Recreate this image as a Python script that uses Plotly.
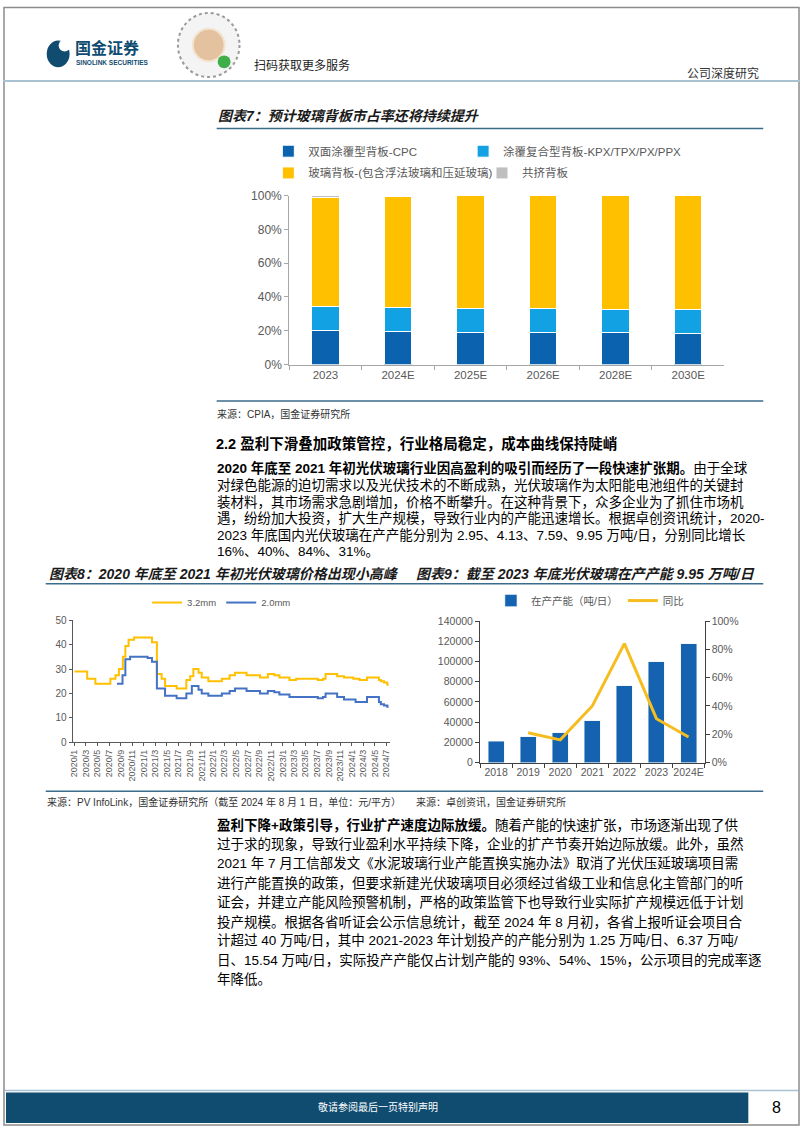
import plotly.graph_objects as go

W, H = 802, 1133
FONT = "Liberation Sans, Noto Sans CJK SC"


def px(x):
    return x / W


def py(y):
    return 1 - y / H


# ---- 图表7: backsheet market share (%) ----
bs_years = ["2023", "2024E", "2025E", "2026E", "2028E", "2030E"]
bs_cpc = [20.0, 19.4, 19.0, 18.8, 18.8, 18.4]
bs_kpx = [14.5, 14.1, 14.0, 14.2, 13.9, 14.3]
bs_glass = [64.5, 65.7, 67.0, 67.0, 67.3, 67.3]
bs_coex = [1.0, 0.8, 0.0, 0.0, 0.0, 0.0]

# ---- 图表8: PV glass price (元/平方), step change points ----
p32_dates = ["2020-01-01", "2020-03-08", "2020-04-20", "2020-07-08", "2020-08-04",
             "2020-08-22", "2020-09-12", "2020-09-25", "2020-10-12", "2020-11-10",
             "2021-02-12", "2021-03-10", "2021-04-04", "2021-04-22", "2021-06-22",
             "2021-08-12", "2021-09-01", "2021-09-18", "2021-10-15", "2021-11-01",
             "2021-12-06", "2022-02-15", "2022-03-28", "2022-04-25", "2022-06-25",
             "2022-09-04", "2022-10-15", "2022-11-18", "2022-12-15", "2023-02-06",
             "2023-03-12", "2023-07-05", "2023-08-01", "2023-08-15", "2023-10-15",
             "2023-11-20", "2024-01-08", "2024-02-10", "2024-03-20", "2024-05-22",
             "2024-06-01", "2024-06-18", "2024-07-05", "2024-07-12"]
p32_vals = [29, 26, 24, 26, 27.5,
            30, 35, 39.5, 42, 43,
            41, 28, 26, 23, 22,
            25.5, 27, 30, 28.5, 26.5,
            25, 26, 27.5, 28.5, 27.5,
            26.5, 28, 27.5, 26.5, 25.5,
            26, 25.5, 26, 28, 27,
            26.5, 26, 25.5, 26.5, 25.5,
            25, 24.5, 23.5, 23.5]

p20_dates = ["2020-08-12", "2020-09-10", "2020-09-25", "2020-10-20", "2021-01-20",
             "2021-02-12", "2021-03-10", "2021-04-22", "2021-06-22", "2021-08-12",
             "2021-09-10", "2021-10-15", "2021-11-01", "2021-12-06", "2022-02-15",
             "2022-03-28", "2022-04-25", "2022-06-25", "2022-09-04", "2022-10-15",
             "2022-11-18", "2022-12-15", "2023-02-06", "2023-07-05", "2023-08-01",
             "2023-08-15", "2023-10-15", "2023-11-20", "2024-01-20", "2024-03-20",
             "2024-05-22", "2024-06-01", "2024-06-18", "2024-07-05", "2024-07-12"]
p20_vals = [24, 27.5, 34, 35, 34.5,
            33, 22, 19, 18, 20,
            23, 21.5, 20, 19, 20,
            21, 22, 21, 20, 21,
            20.5, 19.5, 18.5, 18, 18.5,
            20, 18.5, 17.5, 16.5, 18.5,
            16.5, 15.5, 15, 14.5, 14.5]

price_tickvals = ["2020-01-01", "2020-03-01", "2020-05-01", "2020-07-01", "2020-09-01",
                  "2020-11-01", "2021-01-01", "2021-03-01", "2021-05-01", "2021-07-01",
                  "2021-09-01", "2021-11-01", "2022-01-01", "2022-03-01", "2022-05-01",
                  "2022-07-01", "2022-09-01", "2022-11-01", "2023-01-01", "2023-03-01",
                  "2023-05-01", "2023-07-01", "2023-09-01", "2023-11-01", "2024-01-01",
                  "2024-03-01", "2024-05-01", "2024-07-01"]
price_ticktext = ["2020/1", "2020/3", "2020/5", "2020/7", "2020/9", "2020/11",
                  "2021/1", "2021/3", "2021/5", "2021/7", "2021/9", "2021/11",
                  "2022/1", "2022/3", "2022/5", "2022/7", "2022/9", "2022/11",
                  "2023/1", "2023/3", "2023/5", "2023/7", "2023/9", "2023/11",
                  "2024/1", "2024/3", "2024/5", "2024/7"]

# ---- 图表9: capacity in production (吨/日) and yoy ----
cap_years = ["2018", "2019", "2020", "2021", "2022", "2023", "2024E"]
cap_tpd = [21000, 25400, 29500, 41300, 75900, 99500, 117400]
yoy_years = ["2019", "2020", "2021", "2022", "2023", "2024E"]
yoy_vals = [0.21, 0.16, 0.40, 0.84, 0.31, 0.18]

C_DARK = "#0b62ae"
C_LIGHT = "#12a1e3"
C_YEL = "#ffc000"
C_GRAY = "#bfbfbf"
NAVY = "#0f4c70"
RULE = "#3b6b8a"
TICK = "#595959"

fig = go.Figure()

bar_line = dict(color="white", width=1)
fig.add_trace(go.Bar(x=bs_years, y=bs_cpc, name="双面涂覆型背板-CPC", marker=dict(color=C_DARK, line=bar_line),
                     width=0.38, xaxis="x", yaxis="y", legend="legend"))
fig.add_trace(go.Bar(x=bs_years, y=bs_kpx, name="涂覆复合型背板-KPX/TPX/PX/PPX", marker=dict(color=C_LIGHT, line=bar_line),
                     width=0.38, xaxis="x", yaxis="y", legend="legend2"))
fig.add_trace(go.Bar(x=bs_years, y=bs_glass, name="玻璃背板-(包含浮法玻璃和压延玻璃)", marker=dict(color=C_YEL, line=bar_line),
                     width=0.38, xaxis="x", yaxis="y", legend="legend3"))
fig.add_trace(go.Bar(x=bs_years, y=bs_coex, name="共挤背板", marker=dict(color=C_GRAY, line=bar_line),
                     width=0.38, xaxis="x", yaxis="y", legend="legend4"))

fig.add_trace(go.Scatter(x=p32_dates, y=p32_vals, name="3.2mm", mode="lines", line=dict(color=C_YEL, width=2, shape="hv"),
                         xaxis="x2", yaxis="y2", legend="legend5"))
fig.add_trace(go.Scatter(x=p20_dates, y=p20_vals, name="2.0mm", mode="lines", line=dict(color="#4472c4", width=2, shape="hv"),
                         xaxis="x2", yaxis="y2", legend="legend5"))

fig.add_trace(go.Bar(x=cap_years, y=cap_tpd, name="在产产能（吨/日）", marker=dict(color="#1462b0"),
                     width=0.5, xaxis="x3", yaxis="y3", legend="legend6"))
fig.add_trace(go.Scatter(x=yoy_years, y=yoy_vals, name="同比", mode="lines", line=dict(color="#f5bd1f", width=3),
                         xaxis="x3", yaxis="y4", legend="legend6"))

tickfont7 = dict(family=FONT, size=12, color=TICK)
tickfont8 = dict(family=FONT, size=10, color=TICK)
tickfont9 = dict(family=FONT, size=10.5, color=TICK)


def leg(x, y, size):
    return dict(x=px(x), y=py(y), xanchor="left", yanchor="middle", orientation="h", traceorder="normal",
                bgcolor="rgba(0,0,0,0)", font=dict(family=FONT, size=size, color=TICK))


fig.update_layout(
    width=W, height=H, margin=dict(l=0, r=0, t=0, b=0),
    paper_bgcolor="white", plot_bgcolor="white",
    barmode="stack", showlegend=True,
    font=dict(family=FONT, color="#000"),
    xaxis=dict(domain=[px(288), px(726)], anchor="y", type="category", showline=True, linecolor="#a6a6a6",
               ticks="outside", tickson="boundaries", ticklen=4, tickcolor="#a6a6a6",
               tickfont=dict(family=FONT, size=11.5, color=TICK), tickangle=0, showgrid=False),
    yaxis=dict(domain=[py(362), py(191)], anchor="x", range=[0, 100], dtick=20, ticksuffix="%", showline=True,
               linecolor="#a6a6a6", ticks="outside", ticklen=4, tickcolor="#a6a6a6", tickfont=tickfont7,
               showgrid=False, zeroline=False),
    xaxis2=dict(domain=[px(70), px(389)], anchor="y2", type="date", range=["2019-12-22", "2024-07-17"],
                tickvals=price_tickvals, ticktext=price_ticktext, tickangle=-90, showline=True, linecolor="#595959",
                ticks="outside", ticklen=3, tickcolor="#595959", tickfont=dict(family=FONT, size=9, color=TICK),
                showgrid=False),
    yaxis2=dict(domain=[py(744.3), py(621)], anchor="x2", range=[0, 50], dtick=10, showline=True,
                linecolor="#595959", ticks="outside", ticklen=3, tickcolor="#595959", tickfont=tickfont8,
                showgrid=False, zeroline=False),
    xaxis3=dict(domain=[px(480), px(706)], anchor="y3", type="category", showline=True, linecolor="#404040",
                ticks="outside", tickson="boundaries", ticklen=4, tickcolor="#404040", tickfont=tickfont9,
                tickangle=0, showgrid=False),
    yaxis3=dict(domain=[py(765), py(621.7)], anchor="x3", range=[0, 140000], dtick=20000, tickformat="d",
                showline=True, linecolor="#404040", ticks="outside", ticklen=4, tickcolor="#404040",
                tickfont=tickfont9, showgrid=False, zeroline=False),
    yaxis4=dict(overlaying="y3", anchor="x3", side="right", range=[0, 1], dtick=0.2, tickformat=".0%",
                showline=True, linecolor="#404040", ticks="outside", ticklen=4, tickcolor="#404040",
                tickfont=tickfont9, showgrid=False, zeroline=False),
    legend=leg(267, 146, 11.5),
    legend2=leg(463, 146, 11.5),
    legend3=leg(267, 168, 11.5),
    legend4=leg(482, 168, 11.5),
    legend5=leg(145, 603, 9.5),
    legend6=leg(491, 601, 10.5),
)

shapes = []


def hline(x0, x1, y, color, width):
    shapes.append(dict(type="line", xref="paper", yref="paper", x0=px(x0), x1=px(x1), y0=py(y), y1=py(y),
                       line=dict(color=color, width=width)))


# page frame and rules
shapes.append(dict(type="rect", xref="paper", yref="paper", x0=px(1), x1=px(801), y0=py(1132), y1=py(0.5),
                   line=dict(color="#8c8c8c", width=1.5)))
hline(0, 802, 75, "#a9c1d0", 2)
hline(215, 765, 123, RULE, 1.5)
hline(215, 765, 399, RULE, 1.5)
hline(43, 765, 584, RULE, 1.5)
hline(43, 765, 794, RULE, 1.5)
hline(2, 800, 1097, "#a9c1d0", 1.5)
shapes.append(dict(type="rect", xref="paper", yref="paper", x0=px(3), x1=px(750), y0=py(1130), y1=py(1099),
                   fillcolor=NAVY, line=dict(width=0)))
# logo
shapes.append(dict(type="circle", xref="paper", yref="paper", x0=px(44), x1=px(67), y0=py(61), y1=py(34),
                   fillcolor=NAVY, line=dict(width=0)))
shapes.append(dict(type="circle", xref="paper", yref="paper", x0=px(56), x1=px(68), y0=py(45), y1=py(33),
                   fillcolor="white", line=dict(width=0)))
# mini-program code
shapes.append(dict(type="circle", xref="paper", yref="paper", x0=px(176), x1=px(238), y0=py(71), y1=py(6),
                   fillcolor="#f4f4f4", line=dict(color="#9a9a9a", width=2, dash="dot")))
shapes.append(dict(type="circle", xref="paper", yref="paper", x0=px(191), x1=px(223), y0=py(55), y1=py(22),
                   fillcolor="#e4c29f", line=dict(color="#f3e4d2", width=2)))
shapes.append(dict(type="circle", xref="paper", yref="paper", x0=px(216), x1=px(229), y0=py(62), y1=py(49),
                   fillcolor="#3fae49", line=dict(width=0)))

annotations = []


def note(x, y, text, size, color="#000", anchor="left"):
    annotations.append(dict(xref="paper", yref="paper", x=px(x), y=py(y), text=text, showarrow=False,
                            xanchor=anchor, yanchor="middle", borderpad=0,
                            font=dict(family=FONT, size=size, color=color)))


note(71, 42, "<b>国金证券</b>", 16, NAVY)
note(72, 56, "<b>SINOLINK SECURITIES</b>", 6.5, NAVY)
note(252, 59, "扫码获取更多服务", 12, "#222")
note(687, 67, "公司深度研究", 12, "#333")

note(215, 110, "<b><i>图表7：预计玻璃背板市占率还将持续提升</i></b>", 14, "#1a1a1a")
note(214, 412, "来源：CPIA，国金证券研究所", 10, "#333")
note(213, 442, "<b>2.2 盈利下滑叠加政策管控，行业格局稳定，成本曲线保持陡峭</b>", 14.5)

para1 = [
    "<b>2020 年底至 2021 年初光伏玻璃行业因高盈利的吸引而经历了一段快速扩张期。</b>由于全球",
    "对绿色能源的迫切需求以及光伏技术的不断成熟，光伏玻璃作为太阳能电池组件的关键封",
    "装材料，其市场需求急剧增加，价格不断攀升。在这种背景下，众多企业为了抓住市场机",
    "遇，纷纷加大投资，扩大生产规模，导致行业内的产能迅速增长。根据卓创资讯统计，2020-",
    "2023 年底国内光伏玻璃在产产能分别为 2.95、4.13、7.59、9.95 万吨/日，分别同比增长",
    "16%、40%、84%、31%。",
]
for i, line in enumerate(para1):
    note(214, 467 + 16.9 * i, line, 13.5)

note(45, 574, "<b><i>图表8：2020 年底至 2021 年初光伏玻璃价格出现小高峰</i></b>", 14, "#1a1a1a")
note(415, 574, "<b><i>图表9：截至 2023 年底光伏玻璃在产产能 9.95 万吨/日</i></b>", 14, "#1a1a1a")
note(43, 805, "来源：PV InfoLink，国金证券研究所（截至 2024 年 8 月 1 日，单位：元/平方）", 10, "#333")
note(415, 805, "来源：卓创资讯，国金证券研究所", 10, "#333")

para2 = [
    "<b>盈利下降+政策引导，行业扩产速度边际放缓。</b>随着产能的快速扩张，市场逐渐出现了供",
    "过于求的现象，导致行业盈利水平持续下降，企业的扩产节奏开始边际放缓。此外，虽然",
    "2021 年 7 月工信部发文《水泥玻璃行业产能置换实施办法》取消了光伏压延玻璃项目需",
    "进行产能置换的政策，但要求新建光伏玻璃项目必须经过省级工业和信息化主管部门的听",
    "证会，并建立产能风险预警机制，严格的政策监管下也导致行业实际扩产规模远低于计划",
    "投产规模。根据各省听证会公示信息统计，截至 2024 年 8 月初，各省上报听证会项目合",
    "计超过 40 万吨/日，其中 2021-2023 年计划投产的产能分别为 1.25 万吨/日、6.37 万吨/",
    "日、15.54 万吨/日，实际投产产能仅占计划产能的 93%、54%、15%，公示项目的完成率逐",
    "年降低。",
]
for i, line in enumerate(para2):
    note(214, 828 + 19.6 * i, line, 13.5)

note(377, 1114, "敬请参阅最后一页特别声明", 10, "white", anchor="center")
note(778, 1114, "8", 16, "#000", anchor="center")

fig.update_layout(shapes=shapes, annotations=annotations)
fig.write_html("out.html", config={"displayModeBar": False},
               post_script="document.body.style.margin='0';document.body.style.overflow='hidden';")
